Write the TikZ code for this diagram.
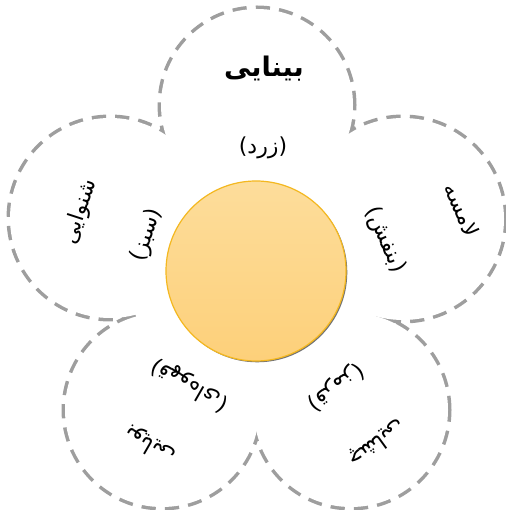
\documentclass[tikz,border=0pt]{standalone}
\usepackage{fontspec}
\newfontfamily\arabicfont[Script=Arabic]{DejaVu Sans}
\TeXXeTstate=1
\definecolor{petalgray}{RGB}{158,158,158}
\definecolor{suntop}{RGB}{253,221,155}
\definecolor{sunbot}{RGB}{253,208,122}
\definecolor{sunrim}{RGB}{244,184,32}

\begin{document}
\begin{tikzpicture}[x=1pt,y=1pt,
  petal/.style={draw=petalgray,line width=7pt,dash pattern=on 14pt off 9pt},
  title/.style={font=\arabicfont\bfseries\fontsize{27}{31}\selectfont,inner sep=0pt},
  hue/.style={font=\arabicfont\fontsize{22}{26}\selectfont,inner sep=0pt}]
\useasboundingbox (0,0) rectangle (505,510);
% petal centres and radii
\coordinate (ptop) at (257,405);
\coordinate (pright) at (403,291);
\coordinate (pbr) at (351,100);
\coordinate (pbl) at (162,100);
\coordinate (pleft) at (110,292);
\coordinate (mid) at (256,239);
% dashed outline of the flower
\foreach \p/\r in {ptop/96,pright/101,pbr/97,pbl/97,pleft/100}
  \draw[petal] (\p) circle (\r);
\foreach \p/\r in {ptop/96,pright/101,pbr/97,pbl/97,pleft/100}
  \fill[white] (\p) circle (\r);
\fill[white] (mid) circle (128);
% sun
\fill[black!55] ([shift={(1.3,-1.3)}]mid) circle (90);
\shadedraw[top color=suntop,bottom color=sunbot,draw=sunrim,line width=1.2pt] (mid) circle (90);
%------------- top
\node[title] (sight) at (264,441) {\beginR بینایی\endR};
\node[hue] (yellow) at (263,362) {\beginR(زرد)\endR};
%------------- right
\node[hue,rotate=-66] (touch) at (462,300) {\beginR لامسه\endR};
\node[hue,rotate=-66] (purple) at (385,270) {\beginR(بنفش)\endR};
%------------- bottom right
\node[hue,rotate=-144] (taste) at (377,67) {\beginR چشایی\endR};
\node[hue,rotate=-144] (red) at (336,123) {\beginR(قرمز)\endR};
%------------- bottom left
\node[hue,rotate=150] (smell) at (150,65) {\beginR بویایی\endR};
\node[hue,rotate=150] (brown) at (190,125) {\beginR(قهوه‌ای)\endR};
%------------- left
\node[hue,rotate=72] (hearing) at (80,298) {\beginR شنوایی\endR};
\node[hue,rotate=72] (green) at (147,275) {\beginR(سبز)\endR};
\end{tikzpicture}
\end{document}
